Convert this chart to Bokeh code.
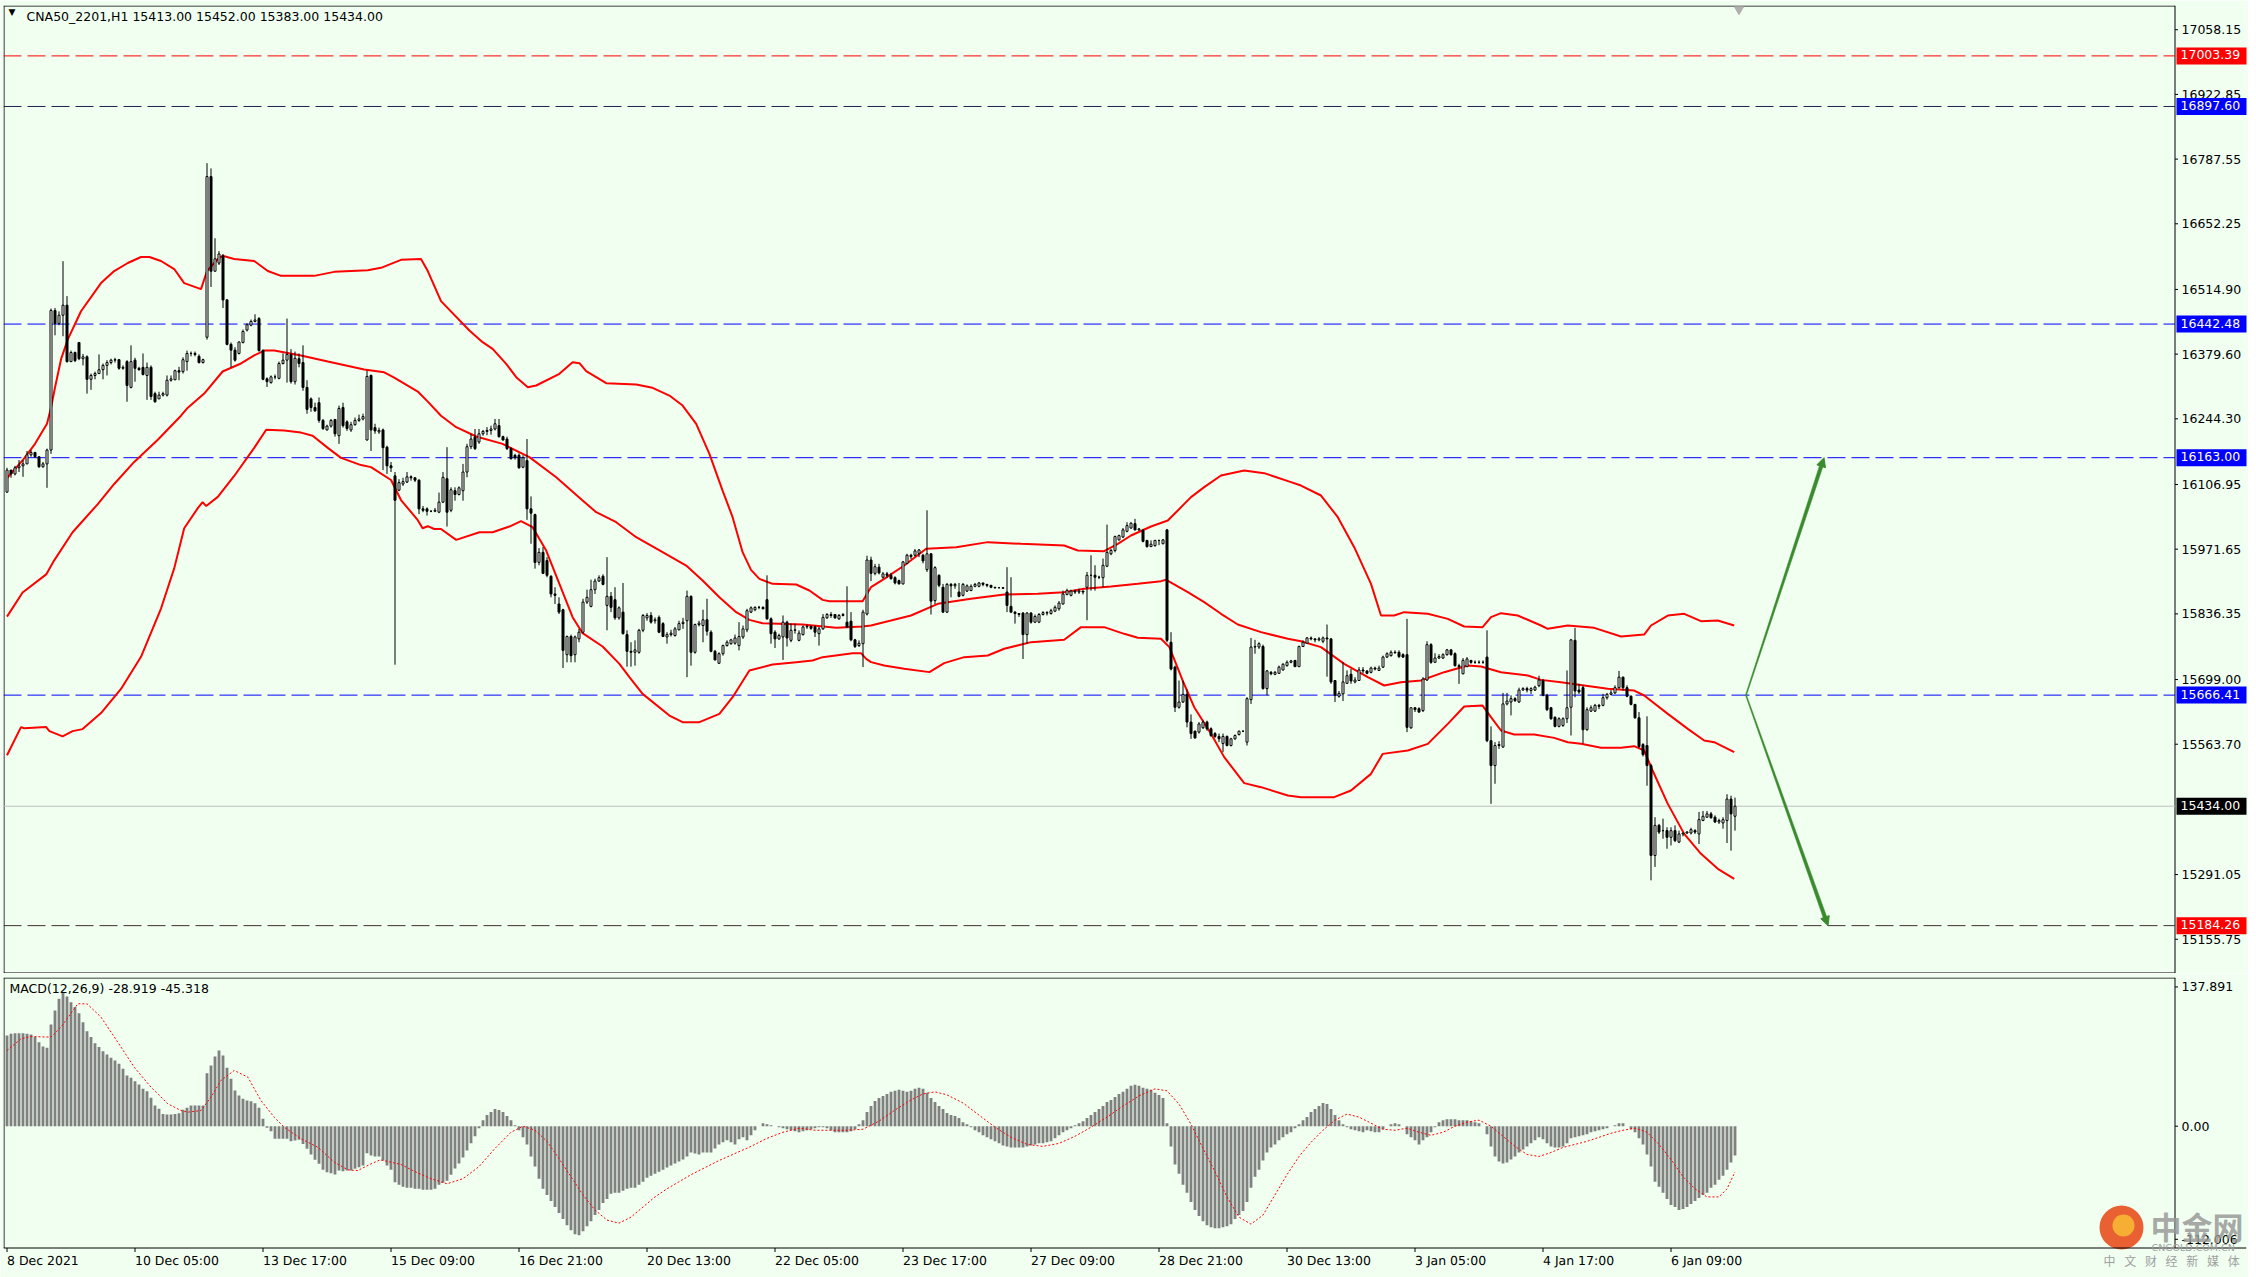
from bokeh.plotting import figure
from bokeh.models import (Range1d, FixedTicker, PrintfTickFormatter, Span, Label,
                          Arrow, NormalHead, ColumnDataSource)
from bokeh.layouts import column
from bokeh.embed import file_html
from bokeh.resources import INLINE
import math

BG = "#F0FFF0"
FONT = "DejaVu Sans"
FS = "12.5px"

symbol_header = "CNA50_2201,H1  15413.00 15452.00 15383.00 15434.00"
macd_header = "MACD(12,26,9) -28.919 -45.318"

opens = [
16091,16137,16129,16142,16146,16150,16169,16174,16165,16144,
16150,16179,16471,16444,16461,16482,16364,16383,16404,16370,
16374,16327,16335,16339,16347,16356,16362,16367,16368,16350,
16364,16310,16367,16350,16352,16335,16352,16297,16286,16294,
16294,16325,16326,16345,16343,16364,16381,16381,16375,16362,
16415,16751,16553,16570,16585,16493,16400,16388,16381,16404,
16430,16440,16448,16454,16387,16328,16320,16332,16329,16360,
16367,16379,16322,16370,16362,16310,16286,16268,16278,16241,
16221,16229,16243,16209,16268,16238,16221,16232,16241,16244,
16200,16335,16226,16217,16221,16185,16146,16125,16095,16108,
16112,16123,16121,16116,16056,16056,16051,16051,16049,16070,
16119,16053,16094,16086,16094,16133,16186,16206,16196,16213,
16218,16220,16223,16230,16207,16202,16182,16168,16168,16143,
16157,16056,16044,15944,15965,15948,15915,15878,15857,15845,
15751,15789,15751,15784,15798,15861,15852,15887,15905,15915,
15854,15873,15866,15828,15840,15793,15758,15756,15756,15802,
15828,15833,15822,15829,15816,15788,15793,15791,15803,15816,
15822,15873,15756,15814,15812,15824,15798,15758,15733,15753,
15770,15774,15775,15770,15788,15803,15840,15845,15850,15850,
15866,15826,15798,15784,15788,15819,15781,15802,15781,15793,
15809,15810,15809,15795,15805,15828,15835,15835,15826,15833,
15819,15821,15782,15770,15774,15836,15949,15921,15934,15913,
15920,15917,15912,15906,15899,15942,15959,15959,15963,15959,
15929,15962,15864,15917,15892,15840,15898,15895,15882,15875,
15884,15885,15894,15894,15901,15898,15896,15892,15891,15891,
15882,15852,15840,15837,15838,15793,15838,15819,15819,15835,
15839,15837,15842,15847,15857,15877,15875,15884,15882,15884,
15892,15917,15917,15913,15912,15936,15962,15969,15991,15997,
16009,16016,16025,16012,16011,15990,15977,15979,15990,15983,
16012,15777,15725,15641,15652,15668,15610,15591,15589,15598,
15610,15596,15586,15580,15565,15580,15561,15575,15584,15591,
15568,15657,15767,15767,15768,15680,15714,15710,15712,15719,
15728,15735,15739,15726,15768,15775,15786,15784,15782,15779,
15786,15784,15697,15664,15669,15691,15710,15694,15697,15719,
15717,15714,15723,15718,15725,15746,15749,15756,15756,15751,
15751,15598,15640,15638,15634,15698,15772,15735,15744,15744,
15751,15761,15753,15728,15711,15726,15739,15735,15735,15735,
15746,15571,15519,15561,15558,15648,15652,15659,15652,15677,
15680,15676,15677,15686,15697,15666,15640,15620,15601,15603,
15617,15641,15781,15677,15682,15594,15633,15633,15645,15645,
15661,15668,15671,15682,15704,15682,15664,15647,15619,15563,
15561,15519,15331,15394,15383,15383,15369,15383,15359,15376,
15378,15378,15383,15376,15404,15411,15418,15411,15401,15399,
15404,15449,15413]

highs = [
16142,16137,16146,16158,16158,16177,16179,16175,16165,16154,
16182,16475,16476,16469,16574,16501,16387,16385,16404,16380,
16377,16339,16343,16379,16360,16367,16370,16372,16369,16356,
16367,16398,16372,16353,16381,16362,16356,16301,16301,16301,
16335,16335,16347,16353,16373,16387,16385,16385,16379,16370,
16779,16768,16622,16595,16589,16495,16404,16394,16406,16431,
16444,16452,16463,16457,16390,16331,16335,16337,16364,16381,
16454,16390,16385,16381,16398,16325,16289,16278,16289,16244,
16232,16244,16244,16272,16278,16241,16238,16247,16253,16255,
16345,16337,16234,16226,16224,16188,16154,16133,16118,16121,
16133,16126,16121,16118,16062,16059,16053,16058,16090,16133,
16185,16101,16101,16103,16150,16192,16213,16223,16223,16221,
16227,16230,16244,16244,16209,16207,16185,16171,16172,16168,
16202,16082,16046,15974,15976,15955,15917,15892,15871,15847,
15791,15793,15791,15805,15868,15887,15908,15910,15917,15919,
15955,15882,15892,15852,15901,15802,15777,15781,15805,15836,
15838,15840,15829,15833,15819,15798,15803,15809,15822,15828,
15885,15875,15816,15822,15845,15868,15802,15761,15756,15772,
15781,15784,15793,15819,15812,15847,15852,15852,15853,15852,
15917,15829,15802,15795,15833,15822,15816,15816,15802,15812,
15814,15812,15812,15809,15836,15838,15840,15836,15836,15838,
15894,15840,15784,15781,15845,15958,15956,15941,15941,15924,
15924,15922,15915,15908,15947,15962,15962,15972,15972,15962,
16053,15963,15936,15919,15899,15901,15901,15901,15901,15901,
15898,15898,15901,15903,15901,15899,15897,15892,15892,15892,
15934,15913,15842,15838,15840,15840,15840,15835,15838,15842,
15842,15847,15854,15863,15885,15889,15887,15887,15889,15885,
15924,15959,15938,15916,15952,16023,15972,16000,16002,16016,
16028,16028,16035,16016,16014,15991,15990,15991,15991,15993,
16014,15798,15728,15697,15697,15678,15626,15592,15610,15613,
15613,15599,15589,15586,15586,15582,15577,15584,15592,15592,
15662,15786,15782,15777,15772,15719,15717,15717,15728,15733,
15739,15740,15740,15770,15781,15788,15789,15786,15788,15789,
15814,15786,15698,15675,15735,15718,15721,15704,15725,15725,
15718,15726,15726,15728,15749,15756,15760,15760,15760,15754,
15826,15641,15641,15641,15704,15779,15775,15754,15752,15754,
15763,15763,15756,15732,15744,15746,15740,15739,15739,15739,
15802,15601,15568,15570,15671,15671,15666,15662,15682,15683,
15684,15683,15686,15707,15700,15669,15641,15622,15620,15620,
15718,15784,15807,15690,15687,15641,15645,15648,15648,15669,
15671,15677,15687,15717,15705,15687,15666,15648,15631,15566,
15622,15523,15411,15397,15408,15390,15390,15394,15383,15378,
15382,15389,15386,15422,15424,15424,15422,15415,15408,15411,
15459,15456,15452]

lows = [
16090,16121,16126,16133,16123,16150,16165,16163,16142,16142,
16100,16171,16419,16440,16417,16362,16363,16363,16367,16356,
16297,16305,16327,16339,16327,16335,16358,16362,16347,16347,
16280,16308,16322,16345,16335,16284,16284,16278,16286,16291,
16291,16322,16325,16325,16339,16345,16375,16375,16360,16360,
16410,16520,16553,16566,16476,16398,16352,16364,16379,16402,
16427,16438,16446,16385,16325,16311,16318,16327,16327,16358,
16320,16318,16316,16352,16303,16255,16259,16259,16236,16221,
16220,16226,16207,16192,16226,16219,16217,16230,16238,16241,
16199,16177,16213,16213,16137,16129,16133,15730,16093,16104,
16110,16115,16112,16045,16049,16042,16049,16049,16047,16068,
16019,16049,16073,16084,16073,16122,16181,16179,16192,16209,
16210,16211,16220,16205,16199,16179,16159,16159,16140,16141,
16033,15983,15931,15938,15920,15913,15871,15857,15836,15723,
15735,15735,15735,15777,15795,15857,15850,15878,15903,15896,
15802,15840,15824,15824,15793,15726,15726,15728,15753,15798,
15822,15816,15816,15796,15788,15774,15789,15789,15802,15805,
15704,15728,15753,15810,15777,15791,15756,15739,15732,15749,
15768,15772,15772,15760,15784,15798,15838,15842,15846,15846,
15824,15774,15765,15782,15740,15768,15777,15795,15779,15791,
15805,15803,15788,15770,15803,15826,15828,15826,15824,15831,
15807,15779,15765,15767,15725,15833,15905,15917,15919,15910,
15912,15908,15898,15898,15898,15940,15951,15956,15955,15942,
15924,15835,15857,15892,15838,15838,15871,15889,15871,15873,
15882,15884,15892,15892,15894,15892,15890,15889,15890,15889,
15840,15838,15816,15830,15742,15774,15816,15817,15817,15833,
15833,15835,15840,15843,15856,15875,15873,15878,15878,15877,
15823,15885,15885,15909,15892,15934,15959,15965,15990,15995,
16007,16014,16011,16010,15986,15975,15977,15977,15980,15982,
15777,15718,15631,15638,15650,15599,15575,15575,15586,15596,
15592,15579,15577,15568,15547,15559,15559,15573,15582,15589,
15561,15648,15753,15763,15678,15666,15708,15708,15711,15718,
15726,15733,15725,15725,15767,15774,15781,15777,15779,15775,
15705,15690,15652,15661,15654,15690,15690,15691,15696,15712,
15710,15712,15718,15717,15723,15744,15747,15753,15744,15744,
15589,15596,15631,15629,15631,15696,15732,15735,15742,15742,
15749,15749,15726,15690,15710,15725,15732,15732,15732,15732,
15568,15439,15481,15554,15556,15645,15624,15652,15650,15676,
15672,15669,15675,15683,15664,15633,15615,15599,15599,15600,
15608,15582,15662,15669,15565,15592,15631,15631,15637,15643,
15657,15666,15669,15680,15676,15662,15645,15617,15556,15538,
15477,15279,15307,15376,15366,15345,15352,15359,15357,15371,
15376,15375,15376,15355,15403,15410,15408,15399,15397,15387,
15357,15341,15383]

closes = [
16137,16129,16142,16146,16150,16169,16174,16165,16144,16150,
16179,16471,16444,16461,16482,16364,16383,16366,16370,16374,
16327,16335,16339,16347,16356,16362,16367,16368,16350,16352,
16314,16364,16350,16347,16337,16352,16291,16280,16294,16297,
16325,16328,16345,16342,16368,16381,16381,16379,16362,16368,
16751,16553,16579,16589,16493,16400,16388,16367,16405,16427,
16441,16448,16451,16387,16327,16322,16332,16332,16360,16367,
16379,16322,16371,16360,16310,16264,16268,16261,16241,16224,
16229,16241,16213,16266,16230,16224,16232,16241,16244,16249,
16333,16221,16219,16220,16184,16146,16142,16074,16111,16113,
16123,16121,16116,16056,16053,16051,16051,16053,16070,16122,
16049,16096,16086,16100,16133,16186,16202,16182,16213,16218,
16220,16223,16234,16207,16200,16182,16161,16163,16142,16163,
16056,16047,15944,15965,15921,15917,15878,15875,15840,15760,
15789,15749,15788,15798,15861,15871,15887,15905,15912,15898,
15873,15850,15828,15849,15795,15758,15756,15761,15802,15833,
15833,15819,15824,15798,15789,15793,15796,15805,15816,15819,
15873,15756,15814,15817,15824,15800,15758,15740,15753,15770,
15777,15782,15786,15789,15805,15843,15849,15850,15850,15847,
15826,15795,15784,15791,15819,15786,15802,15803,15796,15809,
15810,15806,15798,15805,15829,15835,15833,15828,15833,15835,
15809,15782,15768,15775,15840,15949,15921,15935,15922,15920,
15917,15910,15901,15899,15945,15959,15956,15968,15970,15947,
15962,15863,15933,15896,15840,15898,15895,15898,15873,15898,
15895,15894,15898,15901,15898,15896,15892,15891,15891,15890,
15854,15840,15837,15835,15793,15838,15819,15831,15835,15839,
15838,15843,15850,15859,15878,15885,15884,15882,15884,15882,
15917,15917,15913,15913,15938,15965,15969,15998,16000,16012,
16021,16026,16012,16014,15988,15977,15982,15990,15990,15991,
15781,15721,15641,15652,15668,15610,15586,15577,15606,15610,
15596,15582,15580,15575,15580,15561,15575,15582,15591,15591,
15659,15767,15768,15774,15680,15717,15711,15714,15725,15731,
15735,15738,15726,15768,15777,15786,15784,15782,15784,15786,
15784,15694,15666,15670,15694,15707,15696,15698,15719,15717,
15712,15723,15721,15723,15746,15753,15756,15755,15747,15746,
15599,15640,15636,15631,15700,15772,15735,15744,15747,15751,
15761,15751,15728,15726,15739,15742,15735,15735,15735,15735,
15571,15519,15561,15563,15648,15654,15659,15655,15677,15680,
15677,15680,15683,15698,15666,15636,15617,15601,15617,15617,
15640,15782,15675,15673,15594,15636,15640,15645,15643,15661,
15668,15671,15682,15704,15682,15664,15647,15619,15559,15542,
15519,15331,15394,15380,15383,15369,15383,15362,15376,15378,
15380,15385,15380,15406,15413,15418,15410,15401,15404,15406,
15449,15418,15434]

# Bollinger bands: (bar, price)
bb_upper = [(0,16120.6),(4,16158.4),(7,16192.0),(10,16234.0),(11,16267.6),(12,16309.7),(13.5,16368.5),(15.2,16410.5),(18.5,16469.3),(23.5,16528.2),(26.8,16553.4),(30.2,16570.2),(33.5,16582.8),(35.6,16582.8),(38.5,16574.4),(41.8,16557.6),(44.3,16528.2),(48.5,16515.6),(50,16553.4),(52.7,16578.6),(53.9,16585.3),(56.8,16578.6),(61.8,16574.4),(65.2,16553.4),(68.5,16543.3),(76.8,16543.3),(81.8,16551.7),(90.2,16555.1),(93.5,16560.1),(98.5,16576.9),(103.5,16578.6),(105.2,16553.4),(108.5,16490.4),(115.6,16429.0),(118.9,16404.6),(121.4,16390.7),(124.8,16359.3),(127.3,16331.4),(130.2,16310.5),(132.3,16314.0),(138.1,16338.4),(141.4,16362.8),(143.1,16360.7),(144.8,16343.9),(149.8,16318.8),(157.3,16316.1),(161.4,16309.1),(165.6,16293.0),(168.9,16272.1),(172.3,16233.8),(175.6,16171.0),(178.9,16094.3),(181.4,16038.6),(183.9,15965.4),(186,15928.4),(188.1,15909.6),(191.4,15899.1),(197.3,15897.7),(200.6,15885.2),(203.9,15865.6),(205.6,15862.9),(213.9,15862.9),(216,15892.2),(219.3,15909.7),(224.3,15937.6),(229.8,15972.4),(237.3,15975.9),(245.2,15986.4),(253.5,15982.9),(264.3,15979.4),(267.7,15968.9),(274.3,15967.5),(277.7,15982.9),(281,16000.3),(286,16019.1),(290.2,16031.7),(292.7,16052.6),(296,16080.5),(299.3,16101.4),(303.5,16125.8),(309.3,16136.3),(314.3,16130.7),(321,16111.9),(323.5,16104.8),(328.5,16083.9),(332.7,16038.6),(336.8,15975.8),(341,15899.1),(343.5,15832.9),(346.8,15832.9),(349.3,15839.9),(355.2,15836.4),(360.2,15825.9),(364.3,15809.9),(368.9,15808.5),(371,15829.4),(373.5,15837.8),(377.7,15832.9),(383.5,15812.0),(385.2,15805.0),(390.2,15812.0),(396.8,15807.1),(403.5,15789.0),(409.3,15793.1),(411,15812.0),(415.2,15832.9),(419.3,15836.4),(423.5,15821.0),(427.7,15822.4),(431.8,15812.0)]

bb_middle = [(0,15830.6),(3.9,15881.1),(9.8,15918.9),(11.8,15948.3),(16.4,16007.1),(22.7,16066.0),(26.8,16108.0),(31.8,16154.2),(37.7,16200.4),(43.5,16250.8),(45.2,16267.6),(49.3,16297.1),(53.9,16343.3),(58.5,16360.1),(61.8,16376.9),(64.3,16387.0),(66.8,16387.0),(73.5,16376.9),(80.2,16364.3),(89.3,16347.5),(94.3,16341.6),(96.8,16330.7),(102.7,16301.3),(105.2,16280.3),(108.5,16250.8),(112.3,16226.8),(117.3,16207.3),(123.9,16191.9),(130.6,16164.1),(137.3,16122.2),(143.9,16073.4),(147.3,16049.0),(152.3,16028.1),(157.3,15996.7),(163.9,15965.4),(169.8,15937.5),(173.9,15906.1),(178.1,15871.2),(182.3,15839.9),(185.6,15823.8),(188.9,15816.8),(198.9,15814.1),(207.3,15807.1),(213.9,15809.9),(216,15812.1),(221,15822.5),(226,15833.0),(232.7,15857.4),(241,15867.8),(249.3,15876.9),(257.7,15878.3),(264.3,15881.8),(269.3,15888.7),(276,15893.6),(282.7,15899.2),(288.5,15904.8),(289.8,15907.6),(295.2,15881.8),(299.3,15860.9),(303.5,15836.5),(307.7,15814.1),(313.5,15798.1),(320.2,15784.2),(323.5,15779.2),(328.5,15766.7),(334.3,15731.8),(340.2,15703.9),(344.3,15686.5),(348.5,15693.5),(353.5,15696.9),(359.3,15714.4),(365.2,15728.3),(368.5,15726.2),(373.5,15714.4),(380.2,15707.4),(383.5,15698.3),(388.5,15693.5),(394.3,15686.5),(400.2,15679.5),(406.8,15676.0),(409.3,15665.6),(415.2,15627.2),(420.2,15595.8),(424.3,15571.4),(426.8,15567.9),(431.8,15547.0)]

bb_lower = [(0,15540.7),(3.5,15599.5),(4.3,15597.0),(9.8,15599.5),(10.6,15591.1),(13.9,15580.2),(16.4,15591.1),(18.9,15595.3),(23.5,15628.9),(28.5,15679.4),(33.5,15746.6),(38.5,15847.5),(41.8,15931.5),(44.3,16015.5),(47.7,16057.5),(48.9,16070.2),(49.8,16061.8),(52.7,16081.1),(56.8,16124.8),(61.8,16183.6),(64.8,16221.4),(69.3,16219.7),(73.5,16215.5),(76.4,16208.8),(80.2,16183.6),(83.5,16162.6),(88.5,16147.5),(91,16143.3),(96,16116.4),(98.5,16074.4),(102.7,16032.3),(103.9,16015.5),(105.2,16019.7),(106.8,16013.8),(108.5,16013.8),(112.3,15991.2),(118.1,16007.2),(121.4,16007.2),(125.6,16019.0),(128.5,16030.2),(131.4,16017.7),(134.8,15968.8),(138.1,15899.1),(141.4,15829.4),(143.9,15795.9),(148.9,15768.1),(153.1,15731.8),(155.6,15703.9),(158.9,15669.0),(165.6,15623.7),(168.9,15609.8),(173.1,15609.8),(178.1,15627.2),(181.4,15662.1),(185.6,15717.9),(191.4,15730.4),(197.3,15735.3),(201.4,15738.8),(203.9,15745.8),(211.4,15754.1),(213.5,15754.1),(214.8,15742.3),(216,15735.4),(219.3,15728.4),(224.3,15721.4),(230.6,15714.5),(234.3,15733.3),(239.3,15745.8),(245.2,15749.3),(249.3,15763.3),(256,15777.2),(264.3,15782.1),(268.5,15808.6),(274.3,15808.6),(279.3,15794.6),(282.7,15786.3),(288.5,15784.2),(290.6,15766.7),(293.9,15697.0),(296.8,15641.2),(301,15585.5),(304.3,15536.7),(309.3,15482.3),(313.5,15473.9),(320.2,15456.5),(323.5,15452.9),(331.8,15452.9),(336,15466.9),(341,15501.7),(343.9,15543.5),(350.2,15550.5),(355.2,15564.5),(360.2,15606.3),(364.3,15642.6),(368.9,15644.6),(371,15620.2),(373.5,15592.4),(376.8,15584.0),(381.8,15584.0),(386.8,15577.0),(390.2,15567.9),(393.5,15564.5),(398.5,15556.1),(403.5,15556.1),(406.8,15559.6),(409.3,15550.5),(411.4,15508.7),(415.2,15438.9),(419.3,15376.2),(423.5,15334.4),(427.7,15303.0),(431.8,15282.1)]

macd_hist = [
89.8,91.5,92.1,92.1,92.1,91.5,90.8,88.2,83.2,78.9,
77.6,100.7,114.6,126.1,132.7,128.4,122.8,117.9,111.9,103.0,
94.1,88.2,82.2,78.3,74.3,71.0,67.7,65.1,61.8,56.8,
50.2,47.9,44.6,41.3,37.0,34.7,28.1,20.5,17.2,12.2,
11.6,11.6,12.2,12.9,16.2,18.2,20.5,20.5,20.5,20.5,
52.5,60.1,69.0,75.0,70.0,57.8,46.9,35.4,30.4,27.1,
25.5,24.8,22.8,18.2,7.3,-1.6,-4.9,-12.5,-12.5,-12.5,
-12.5,-14.8,-14.2,-13.5,-17.5,-22.4,-28.0,-33.3,-37.3,-43.2,
-45.5,-46.5,-47.8,-43.9,-44.5,-43.9,-43.9,-42.2,-40.6,-38.9,
-26.7,-29.0,-30.0,-30.0,-34.0,-38.9,-43.2,-55.4,-58,-60,
-61,-61,-62,-62,-63,-63,-63,-62,-58,-56,
-54,-48,-42,-37,-31,-24,-17,-10,-2,6,
11,14,17,16,14,10,6,1,-4,-11,
-18,-30,-40,-52,-62,-68,-74,-80,-86,-92,
-98,-103,-107,-108,-104,-99,-94,-88,-83,-76,
-72,-67,-66,-66,-64,-62,-61,-61,-58,-55,
-51,-49,-47,-45,-43,-41,-39,-37,-35,-33,
-30,-26,-27,-28,-26,-26,-26,-22,-18,-16,
-14,-16,-18,-13,-11,-14,-9,-4,0,3,
2,1,0,-1,-2,-3,-4,-5,-6,-5,
-4,-3,-2,-1,-1,-2,-4,-6,-6,-6,
-6,-5,-3,2,6,14,20,25,28,30,
32,34,35,36,35,34,35,37,38,37,
33,28,24,20,17,13,11,10,8,4,
2,-1,-4,-6,-9,-11,-13,-15,-17,-19,
-20,-21,-21,-21,-21,-20,-19,-18,-17,-17,
-16,-15,-12,-9,-6,-4,-2,1,3,5,
8,11,14,17,20,24,26,29,32,34,
37,40,41,40,38,37,36,33,31,28,
3,-20,-38,-47,-58,-66,-75,-83,-89,-94,
-98,-100,-101,-101,-100,-99,-97,-92,-88,-84,
-75,-61,-50,-43,-34,-26,-21,-18,-14,-11,
-8,-6,-2,2,6,9,14,17,20,23,
22,17,11,6,2,-1,-3,-4,-5,-6,
-4,-5,-6,-6,-3,0,2,3,2,0,
-8,-11,-14,-18,-14,-11,-6,-1,4,6,
7,7,7,6,6,6,5,4,3,0,
-8,-20,-30,-35,-37,-36,-33,-30,-26,-23,
-20,-17,-14,-11,-13,-17,-20,-21,-21,-20,
-17,-12,-11,-10,-9,-8,-6,-5,-4,-3,
-2,0,1,3,3,0,-3,-6,-12,-18,
-28,-40,-55,-60,-66,-72,-78,-80,-83,-82,
-80,-77,-74,-71,-68,-66,-61,-58,-53,-49,
-43,-36,-28.9]

macd_signal = [(0,74.9),(3.5,86.5),(6,88.8),(11,88.2),(13.5,98.1),(17.7,121.2),(20,121.2),(23.5,108),(27.7,83.2),(31.8,58.4),(36,38.7),(40.2,22.2),(43.5,15.5),(45.2,13.9),(48.5,15.5),(51,28.8),(53.5,45.3),(56.8,55.2),(60.2,48.6),(63.5,25.4),(66.8,8.9),(69.3,-1.0),(73.5,-12.5),(77.7,-20.8),(81.8,-35.6),(85.2,-43.2),(87.7,-43.9),(91,-37.3),(93.3,-33.3),(98.5,-37.9),(102,-45),(106,-52),(110,-57),(114,-52),(118,-40),(122,-22),(126,-6),(129,0),(132,-4),(135,-15),(138,-32),(141,-50),(144,-68),(147,-83),(150,-93),(153,-96),(156,-90),(159,-80),(162,-70),(165,-62),(168,-55),(171,-48),(175,-40),(178,-34),(182,-27),(186,-20),(190,-12),(194,-6),(198,-2),(202,-4),(206,-4),(210,-4),(214,-3),(218,5),(222,16),(226,26),(229,32),(232,34),(235,31),(239,23),(243,11),(247,-1),(251,-11),(255,-18),(259,-20),(263,-17),(267,-10),(271,-1),(275,9),(279,20),(283,30),(287,37),(290,35),(293,22),(296,2),(299,-22),(302,-45),(305,-70),(308,-90),(311,-97),(314,-88),(317,-68),(320,-48),(323,-30),(326,-16),(329,-4),(332,6),(335,12),(338,9),(341,3),(344,-3),(347,-4),(350,-2),(353,-6),(356,-9),(359,-6),(362,0),(365,4),(368,6),(371,0),(374,-10),(377,-20),(380,-28),(383,-30),(386,-26),(389,-21),(392,-18),(395,-15),(398,-11),(401,-7),(404,-4),(407,-2),(410,-6),(413,-18),(416,-33),(419,-50),(422,-62),(425,-70),(428,-70),(430,-62),(432,-45.3)]

price_ticks = [17058.15, 16922.85, 16787.55, 16652.25, 16514.90, 16379.60, 16244.30,
               16106.95, 15971.65, 15836.35, 15699.00, 15563.70, 15291.05, 15155.75]
macd_ticks = [137.891, 0.0, -112.006]
macd_tick_labels = ["137.891", "0.00", "-112.006"]
date_tick_bars = [0, 32, 64, 96, 128, 160, 192, 224, 256, 288, 320, 352, 384, 416]
date_tick_labels = ["8 Dec 2021", "10 Dec 05:00", "13 Dec 17:00", "15 Dec 09:00", "16 Dec 21:00",
                    "20 Dec 13:00", "22 Dec 05:00", "23 Dec 17:00", "27 Dec 09:00", "28 Dec 21:00",
                    "30 Dec 13:00", "3 Jan 05:00", "4 Jan 17:00", "6 Jan 09:00"]

# horizontal level lines: (price, line colour, label colour)
levels = [(17003.39, "#FF0000", "#FF0000"),
          (16897.60, "#202050", "#0000FF"),
          (16442.48, "#0000FF", "#0000FF"),
          (16163.00, "#0000FF", "#0000FF"),
          (15666.41, "#0000FF", "#0000FF"),
          (15184.26, "#403030", "#FF0000")]
last_price = 15434.00

arrow_origin = (434.75, 15666.41)
arrow_targets = [(454.25, 16163.00), (455.25, 15184.26)]

# ---------------------------------------------------------------- geometry (page pixels)
FL, FR = 3, 2246            # frame left / right edge
AXIS_PX = 2174.5            # price-axis rule
X0 = -0.875
X1 = X0 + (FR - FL) / 4.0
def dx(px):                 # page x -> bar units
    return X0 + (px - FL) / 4.0
def px_of(x):
    return FL + (x - X0) * 4.0

P1_TOP, P1_BOT = 5, 973
Y1_TOP = 17108.81
Y1_BOT = 15084.14
PPX1 = (P1_BOT - P1_TOP) / (Y1_TOP - Y1_BOT)
def dy1(py):
    return Y1_TOP - (py - P1_TOP) / PPX1
def py_of(y):
    return P1_TOP + (Y1_TOP - y) * PPX1

P2_TOP, P2_BOT = 977, 1267
def dy2(py):
    return (1125.7 - py) / 1.01

n = min(len(opens), len(highs), len(lows), len(closes))
xs = list(range(n))
o = opens[:n]; c = closes[:n]
h = [max(highs[i], o[i], c[i]) for i in range(n)]
l = [min(lows[i], o[i], c[i]) for i in range(n)]
src = ColumnDataSource(dict(
    x=xs, h=h, l=l,
    top=[max(o[i], c[i]) for i in range(n)],
    bot=[min(o[i], c[i]) for i in range(n)],
    fill=["white" if c[i] >= o[i] else "black" for i in range(n)]))

# ---------------------------------------------------------------- price pane
p1 = figure(frame_width=FR - FL, frame_height=P1_BOT - P1_TOP,
            x_range=Range1d(X0, X1), y_range=Range1d(Y1_BOT, Y1_TOP),
            x_axis_location=None, y_axis_location="right",
            toolbar_location=None, output_backend="svg",
            background_fill_color=BG, border_fill_color=BG,
            min_border_left=FL, min_border_right=2, min_border_top=P1_TOP, min_border_bottom=0)
p1.outline_line_color = None
p1.xgrid.visible = False
p1.ygrid.visible = False

def style_y(ax):
    ax.axis_line_color = None
    ax.major_tick_line_color = None
    ax.minor_tick_line_color = None
    ax.major_tick_out = 0
    ax.major_tick_in = 0
    ax.major_label_standoff = 2181 - FR
    ax.major_label_text_font = FONT
    ax.major_label_text_font_size = FS
    ax.major_label_text_color = "black"

ay = p1.yaxis[0]
ay.ticker = FixedTicker(ticks=price_ticks)
ay.formatter = PrintfTickFormatter(format="%.2f")
style_y(ay)

xa = dx(AXIS_PX)
# pane frame
p1.segment(x0=[dx(FL + 0.5)], y0=[dy1(P1_TOP + 0.5)], x1=[dx(FL + 0.5)], y1=[dy1(P1_BOT - 0.5)], line_color="black")
p1.segment(x0=[dx(FL)], y0=[dy1(P1_TOP + 0.5)], x1=[xa], y1=[dy1(P1_TOP + 0.5)], line_color="black")
p1.segment(x0=[dx(FL)], y0=[dy1(P1_BOT - 0.5)], x1=[xa], y1=[dy1(P1_BOT - 0.5)], line_color="black")
p1.segment(x0=[xa], y0=[Y1_TOP], x1=[xa], y1=[Y1_BOT], line_color="black")
p1.segment(x0=[xa] * len(price_ticks), y0=price_ticks, x1=[dx(AXIS_PX + 3)] * len(price_ticks),
           y1=price_ticks, line_color="black")

# level lines
for price, lc, bc in levels:
    p1.segment(x0=[X0], y0=[price], x1=[xa], y1=[price], line_color=lc,
               line_width=1, line_dash="18 6")
p1.segment(x0=[X0], y0=[last_price], x1=[xa], y1=[last_price], line_color="#C0C0C0", line_width=1)

# Bollinger bands
for band in (bb_upper, bb_middle, bb_lower):
    p1.line([b[0] for b in band], [b[1] for b in band], line_color="#FF0000", line_width=2)

# candles
p1.segment(x0="x", y0="l", x1="x", y1="h", source=src, line_color="black", line_width=1)
p1.vbar(x="x", top="top", bottom="bot", width=0.5, fill_color="fill",
        line_color="black", line_width=1, source=src)

# arrows: tapered shaft + head
G = "#3A8A2E"
sx, sy = px_of(arrow_origin[0]), py_of(arrow_origin[1])
for tx, ty in arrow_targets:
    ex, ey = px_of(tx), py_of(ty)
    L = math.hypot(ex - sx, ey - sy)
    ux, uy = (ex - sx) / L, (ey - sy) / L
    nx, ny = -uy, ux
    w0, w1 = 0.5, 1.8
    bx, by = ex - ux * 8, ey - uy * 8
    pts = [(sx + nx * w0, sy + ny * w0), (bx + nx * w1, by + ny * w1),
           (bx - nx * w1, by - ny * w1), (sx - nx * w0, sy - ny * w0)]
    p1.patch([dx(p[0]) for p in pts], [dy1(p[1]) for p in pts], fill_color=G, line_color=G,
             line_width=0.5)
    p1.add_layout(Arrow(end=NormalHead(size=9, fill_color=G, line_color=G),
                        x_start=dx(bx), y_start=dy1(by), x_end=tx, y_end=ty,
                        line_color=G, line_width=2))

# price boxes on the axis
for price, lc, bc in levels:
    p1.add_layout(Label(x=dx(2176), y=price, text="%.2f" % price, text_color="white",
                        text_font=FONT, text_font_size=FS, text_baseline="middle",
                        text_align="left", background_fill_color=bc, padding=(4, 8, 3, 5)))
p1.add_layout(Label(x=dx(2176), y=last_price, text="%.2f" % last_price, text_color="white",
                    text_font=FONT, text_font_size=FS, text_baseline="middle",
                    text_align="left", background_fill_color="black", padding=(4, 8, 3, 5)))

# header
p1.add_layout(Label(x=dx(8), y=dy1(11), text="\u25bc", text_font=FONT,
                    text_font_size="9px", text_baseline="middle", text_color="black"))
p1.add_layout(Label(x=dx(26), y=dy1(16), text=symbol_header, text_font=FONT,
                    text_font_size=FS, text_baseline="middle", text_color="black"))
p1.scatter(x=[433], y=[dy1(9)], marker="inverted_triangle", size=9,
           fill_color="#B0B0B0", line_color="#B0B0B0")

# ---------------------------------------------------------------- MACD pane
p2 = figure(frame_width=FR - FL, frame_height=P2_BOT - P2_TOP,
            x_range=p1.x_range, y_range=Range1d(dy2(P2_BOT), dy2(P2_TOP)),
            y_axis_location="right", toolbar_location=None, output_backend="svg",
            background_fill_color=BG, border_fill_color=BG,
            min_border_left=FL, min_border_right=2, min_border_top=4, min_border_bottom=2)
p2.outline_line_color = None
p2.xgrid.visible = False
p2.ygrid.visible = False

ay2 = p2.yaxis[0]
ay2.ticker = FixedTicker(ticks=macd_ticks)
ay2.major_label_overrides = {t: s for t, s in zip(macd_ticks, macd_tick_labels)}
style_y(ay2)

AX_Y = 1247.5
ax2 = p2.xaxis[0]
ax2.ticker = FixedTicker(ticks=date_tick_bars)
ax2.major_label_overrides = {t: s for t, s in zip(date_tick_bars, date_tick_labels)}
ax2.axis_line_color = None
ax2.major_tick_line_color = None
ax2.minor_tick_line_color = None
ax2.major_tick_out = 0
ax2.major_tick_in = 0
ax2.major_label_orientation = -0.001
ax2.major_label_standoff = 1260 - P2_BOT
ax2.major_label_text_font = FONT
ax2.major_label_text_font_size = FS
ax2.major_label_text_color = "black"

# pane frame + axis rules
p2.segment(x0=[dx(FL + 0.5)], y0=[dy2(P2_TOP + 0.5)], x1=[dx(FL + 0.5)], y1=[dy2(AX_Y)], line_color="black")
p2.segment(x0=[dx(FL)], y0=[dy2(P2_TOP + 0.5)], x1=[xa], y1=[dy2(P2_TOP + 0.5)], line_color="black")
p2.segment(x0=[xa], y0=[dy2(P2_TOP)], x1=[xa], y1=[dy2(AX_Y)], line_color="black")
p2.add_layout(Span(location=dy2(AX_Y), dimension="width", line_color="black", line_width=1))
p2.segment(x0=[xa] * len(macd_ticks), y0=macd_ticks, x1=[dx(AXIS_PX + 3)] * len(macd_ticks),
           y1=macd_ticks, line_color="black")
p2.segment(x0=date_tick_bars, y0=[dy2(AX_Y)] * len(date_tick_bars), x1=date_tick_bars,
           y1=[dy2(AX_Y + 4)] * len(date_tick_bars), line_color="black")

mn = min(n, len(macd_hist))
p2.vbar(x=list(range(mn)), top=macd_hist[:mn], bottom=0, width=0.7,
        fill_color="#808080", line_color=None)
p2.line([s[0] for s in macd_signal], [s[1] for s in macd_signal],
        line_color="#FF0000", line_width=1, line_dash="2 2")

p2.add_layout(Label(x=dx(9), y=dy2(988), text=macd_header, text_font=FONT,
                    text_font_size=FS, text_baseline="middle", text_color="black"))

# watermark
p2.scatter(x=[dx(2121)], y=[dy2(1227)], marker="circle", size=44, fill_color="#E8501E",
           line_color=None, fill_alpha=0.9)
p2.scatter(x=[dx(2123)], y=[dy2(1225)], marker="circle", size=22, fill_color="#F7B733",
           line_color=None, fill_alpha=0.9)
p2.add_layout(Label(x=dx(2150), y=dy2(1225), text="\u4e2d\u91d1\u7f51",
                    text_font="Noto Sans CJK SC", text_font_style="bold", text_font_size="31px",
                    text_baseline="middle", text_color="#9A9A9A", text_alpha=0.85))
p2.add_layout(Label(x=dx(2151), y=dy2(1247), text="CNGOLD.COM.CN",
                    text_font=FONT, text_font_size="9.5px", text_baseline="middle",
                    text_color="#A0A0A0"))
GAP = "\u2002\u00a0"
p2.add_layout(Label(x=dx(2103), y=dy2(1260),
                    text=GAP.join(["\u4e2d", "\u6587", "\u8d22", "\u7ecf", "\u65b0", "\u5a92", "\u4f53"]),
                    text_font="Noto Sans CJK SC", text_font_size="12px", text_baseline="middle",
                    text_color="#A0A0A0"))

layout = column(p1, p2, spacing=0)
open("out.html", "w").write(file_html(layout, INLINE))
